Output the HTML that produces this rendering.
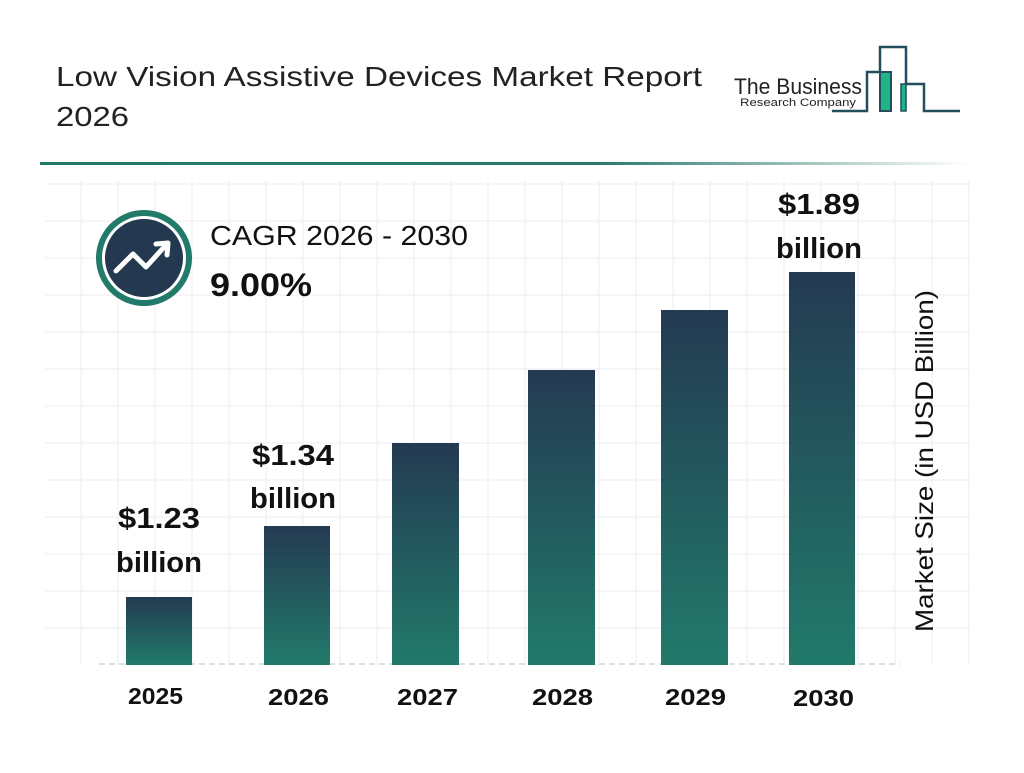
<!DOCTYPE html>
<html><head><style>
body{margin:0;background:#fff;width:1024px;height:768px;overflow:hidden;font-family:"Liberation Sans",sans-serif}
</style></head><body>
<svg width="1024" height="768" viewBox="0 0 1024 768" xmlns="http://www.w3.org/2000/svg" font-family="Liberation Sans, sans-serif">
<defs>
<linearGradient id="bar" x1="0" y1="0" x2="0" y2="1"><stop offset="0" stop-color="#243a52"/><stop offset="1" stop-color="#217a6a"/></linearGradient>
<linearGradient id="line" x1="0" y1="0" x2="1" y2="0"><stop offset="0" stop-color="#1f7a68"/><stop offset="0.6" stop-color="#2a7a6a"/><stop offset="1" stop-color="#ffffff"/></linearGradient>
</defs>
<text x="56" y="86" font-size="28" fill="#222" textLength="646" lengthAdjust="spacingAndGlyphs">Low Vision Assistive Devices Market Report</text>
<text x="56" y="126" font-size="28" fill="#222" textLength="73" lengthAdjust="spacingAndGlyphs">2026</text>
<!-- logo -->
<text x="734" y="94" font-size="22" fill="#222" textLength="128" lengthAdjust="spacingAndGlyphs">The Business</text>
<text x="740" y="106" font-size="11" fill="#222" textLength="116" lengthAdjust="spacingAndGlyphs">Research Company</text>
<polyline points="832,111 867,111 867,72 880,72 880,47 906,47 906,84 924,84 924,111 960,111" fill="none" stroke="#244d5e" stroke-width="2.5"/>
<rect x="880" y="72" width="11" height="39" fill="#1fb584" stroke="#244d5e" stroke-width="2"/>
<rect x="901" y="84" width="5" height="27" fill="#1fb584" stroke="#244d5e" stroke-width="1.5"/>
<rect x="40" y="162" width="930" height="3" fill="url(#line)"/>
<!-- grid -->
<g stroke="#eceef1" stroke-width="1">
<line x1="45" y1="184" x2="970" y2="184"/><line x1="45" y1="221" x2="970" y2="221"/><line x1="45" y1="258" x2="970" y2="258"/><line x1="45" y1="295" x2="970" y2="295"/><line x1="45" y1="332" x2="970" y2="332"/><line x1="45" y1="369" x2="970" y2="369"/><line x1="45" y1="406" x2="970" y2="406"/><line x1="45" y1="443" x2="970" y2="443"/><line x1="45" y1="480" x2="970" y2="480"/><line x1="45" y1="517" x2="970" y2="517"/><line x1="45" y1="554" x2="970" y2="554"/><line x1="45" y1="591" x2="970" y2="591"/><line x1="45" y1="628" x2="970" y2="628"/>
<line x1="81" y1="180" x2="81" y2="665"/><line x1="118" y1="180" x2="118" y2="665"/><line x1="155" y1="180" x2="155" y2="665"/><line x1="192" y1="180" x2="192" y2="665"/><line x1="229" y1="180" x2="229" y2="665"/><line x1="266" y1="180" x2="266" y2="665"/><line x1="303" y1="180" x2="303" y2="665"/><line x1="340" y1="180" x2="340" y2="665"/><line x1="377" y1="180" x2="377" y2="665"/><line x1="414" y1="180" x2="414" y2="665"/><line x1="451" y1="180" x2="451" y2="665"/><line x1="488" y1="180" x2="488" y2="665"/><line x1="525" y1="180" x2="525" y2="665"/><line x1="562" y1="180" x2="562" y2="665"/><line x1="599" y1="180" x2="599" y2="665"/><line x1="636" y1="180" x2="636" y2="665"/><line x1="673" y1="180" x2="673" y2="665"/><line x1="710" y1="180" x2="710" y2="665"/><line x1="747" y1="180" x2="747" y2="665"/><line x1="784" y1="180" x2="784" y2="665"/><line x1="821" y1="180" x2="821" y2="665"/><line x1="858" y1="180" x2="858" y2="665"/><line x1="895" y1="180" x2="895" y2="665"/><line x1="932" y1="180" x2="932" y2="665"/><line x1="969" y1="180" x2="969" y2="665"/>
</g>
<line x1="99" y1="664" x2="900" y2="664" stroke="#d0d6de" stroke-width="1.5" stroke-dasharray="6,4"/>
<!-- bars -->
<rect x="126" y="597" width="66" height="68" fill="url(#bar)"/>
<rect x="264" y="526" width="66" height="139" fill="url(#bar)"/>
<rect x="392" y="443" width="67" height="222" fill="url(#bar)"/>
<rect x="528" y="370" width="67" height="295" fill="url(#bar)"/>
<rect x="661" y="310" width="67" height="355" fill="url(#bar)"/>
<rect x="789" y="272" width="66" height="393" fill="url(#bar)"/>
<g font-weight="bold" font-size="29" fill="#111">
<text x="118" y="528" textLength="82" lengthAdjust="spacingAndGlyphs">$1.23</text><text x="116" y="572" textLength="86" lengthAdjust="spacingAndGlyphs">billion</text>
<text x="252" y="465" textLength="82" lengthAdjust="spacingAndGlyphs">$1.34</text><text x="250" y="508" textLength="86" lengthAdjust="spacingAndGlyphs">billion</text>
<text x="778" y="214" textLength="82" lengthAdjust="spacingAndGlyphs">$1.89</text><text x="776" y="258" textLength="86" lengthAdjust="spacingAndGlyphs">billion</text>
</g>
<g font-weight="bold" font-size="23" fill="#111">
<text x="128" y="704" textLength="55" lengthAdjust="spacingAndGlyphs">2025</text><text x="268" y="705" textLength="61" lengthAdjust="spacingAndGlyphs">2026</text><text x="397" y="705" textLength="61" lengthAdjust="spacingAndGlyphs">2027</text><text x="532" y="705" textLength="61" lengthAdjust="spacingAndGlyphs">2028</text><text x="665" y="705" textLength="61" lengthAdjust="spacingAndGlyphs">2029</text><text x="793" y="706" textLength="61" lengthAdjust="spacingAndGlyphs">2030</text>
</g>
<text transform="translate(933,632) rotate(-90)" font-size="25" fill="#111" textLength="342" lengthAdjust="spacingAndGlyphs">Market Size (in USD Billion)</text>
<!-- CAGR -->
<circle cx="144" cy="258" r="48" fill="#217a6a"/>
<circle cx="144" cy="258" r="42" fill="#fff"/>
<circle cx="144" cy="258" r="39" fill="#243850"/>
<polyline points="116,271 133,254 146,267 166,245" fill="none" stroke="#fff" stroke-width="5" stroke-linecap="round" stroke-linejoin="round"/>
<polyline points="156,244 168,243 167,255" fill="none" stroke="#fff" stroke-width="5" stroke-linecap="round" stroke-linejoin="round"/>
<text x="210" y="245" font-size="28" fill="#111" textLength="258" lengthAdjust="spacingAndGlyphs">CAGR 2026 - 2030</text>
<text x="210" y="296" font-size="32" font-weight="bold" fill="#111" textLength="102" lengthAdjust="spacingAndGlyphs">9.00%</text>
</svg>
</body></html>
